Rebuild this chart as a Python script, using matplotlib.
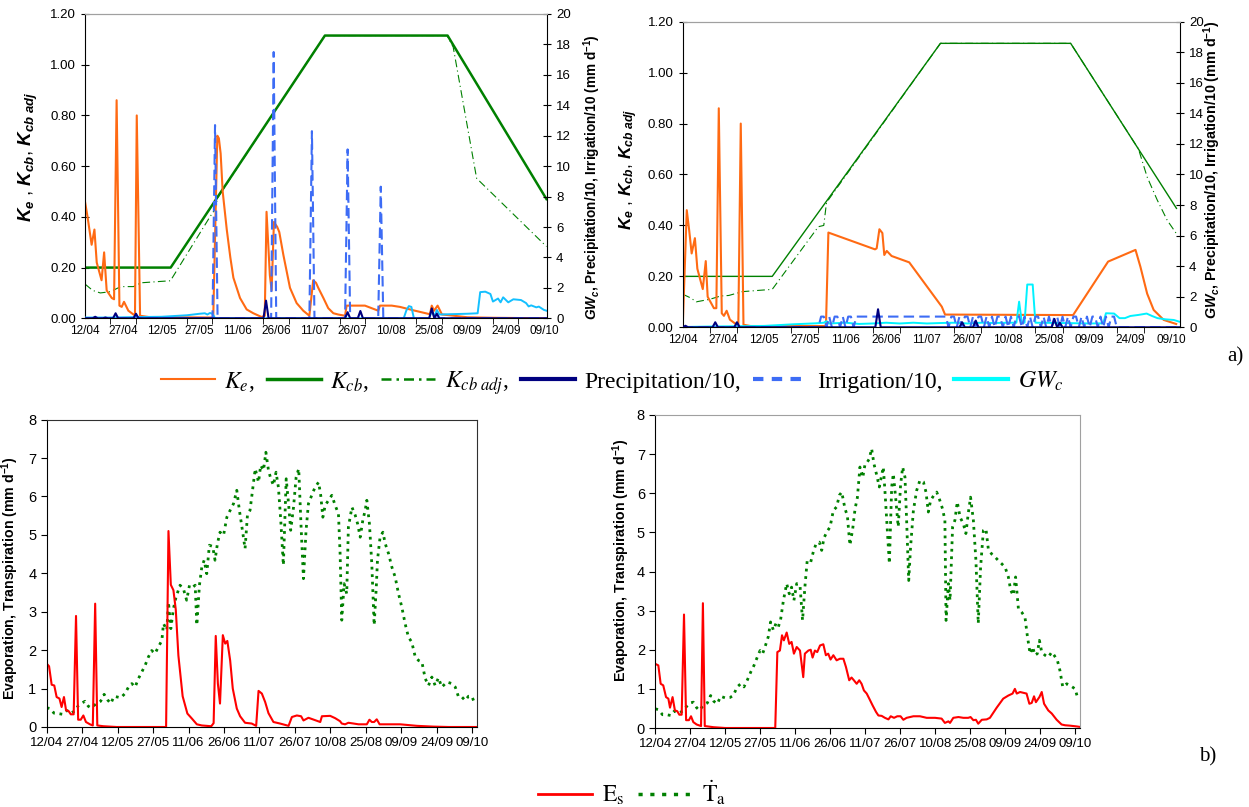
import numpy as np
import matplotlib.pyplot as plt
from matplotlib.lines import Line2D

plt.rcParams['font.family'] = ['Liberation Sans', 'DejaVu Sans']
plt.rcParams['mathtext.fontset'] = 'custom'
plt.rcParams['mathtext.it'] = 'Liberation Sans:italic:bold'
plt.rcParams['mathtext.rm'] = 'Liberation Sans:bold'
plt.rcParams['mathtext.bf'] = 'Liberation Sans:bold'

# x axis: day number counted from 12/04
date_labels = ['12/04', '27/04', '12/05', '27/05', '11/06', '26/06', '11/07',
               '26/07', '10/08', '25/08', '09/09', '24/09', '09/10']

# ---------------- a) left panel ----------------
ke_a_day = [0, 1, 2.6, 3.7, 4.6, 6.5, 7.5, 8.5, 10.5, 11.4, 12.4,
            13.5, 14.4, 15.3, 17, 19, 19.6, 20.3, 21.6, 25, 50.3, 51.3,
            51.9, 52.5, 53.2, 54, 55.6, 57, 58.2, 60.8, 63.4, 66,
            69.3, 70.5, 71.2, 72.5, 73.2, 74.1, 75.4, 76.2, 77.8, 80.4,
            83, 85.6, 88, 89.5, 90.6, 91.5, 93.5, 95.4, 97.4, 99.3,
            102, 102.6, 109.8, 115, 115.7, 120.3, 123.5, 129.4, 135.3, 136,
            136.9, 138.3, 140, 143, 150, 160, 181]
ke_a_val = [0.46, 0.40, 0.29, 0.35, 0.22, 0.15, 0.26, 0.11, 0.08, 0.075, 0.86,
            0.05, 0.045, 0.065, 0.03, 0.015, 0.012, 0.80, 0.01, 0.005, 0.003, 0.45,
            0.72, 0.71, 0.65, 0.50, 0.35, 0.24, 0.16, 0.08, 0.035, 0.02,
            0.005, 0.01, 0.42, 0.17, 0.11, 0.38, 0.36, 0.34, 0.25, 0.12,
            0.06, 0.03, 0.01, 0.15, 0.14, 0.12, 0.08, 0.04, 0.02, 0.015,
            0.01, 0.05, 0.05, 0.03, 0.05, 0.05, 0.045, 0.03, 0.016, 0.05,
            0.03, 0.05, 0.015, 0.012, 0.004, 0.002, 0.0]

kcb_a_day = [0, 33.6, 94.1, 142.2, 181]
kcb_a_val = [0.20, 0.20, 1.115, 1.115, 0.47]

kcbadj_a_day = [0, 3, 6, 10, 14, 19, 22, 29, 33.5, 49, 51, 52, 94, 142, 144.4, 153.6, 181]
kcbadj_a_val = [0.135, 0.11, 0.10, 0.105, 0.125, 0.125, 0.14, 0.145, 0.148, 0.40,
                0.43, 0.475, 1.115, 1.115, 1.07, 0.552, 0.283]

prec_a_day = [4, 8, 12, 20, 71, 103, 108, 136, 138]
prec_a_val = [0.1, 0.05, 0.33, 0.3, 1.16, 0.4, 0.48, 0.65, 0.3]

irr_a_day = [51, 74, 89, 103, 116]
irr_a_val = [12.7, 17.5, 12.3, 11.1, 8.65]

gw_a_day = [0, 10, 20, 30, 40, 45, 47, 48, 49, 50, 51, 125, 126, 127, 128, 129,
            135, 136, 137, 138, 139, 150, 154, 155, 157, 159, 160, 162, 163, 164,
            166, 168, 171, 173, 174, 175, 177, 178, 180, 181]
gw_a_val = [0.05, 0.05, 0.08, 0.10, 0.20, 0.30, 0.33, 0.25, 0.35, 0.30, 0.0, 0.0,
            0.5, 0.8, 0.75, 0.0, 0.0, 0.5, 0.1, 0.55, 0.25, 0.30, 0.33, 1.72, 1.75,
            1.60, 1.10, 1.30, 1.05, 1.38, 1.05, 1.25, 1.20, 1.00, 0.78, 0.85, 0.72,
            0.77, 0.55, 0.50]

# ---------------- a) right panel ----------------
ke_b_day = [0, 1.5, 2.4, 3.3, 4.5, 5.4, 6.4, 7.4, 8.5, 9.2,
            11.5, 12.4, 13.3, 14.4, 15.2, 16.2, 17.4, 19.3, 20.5, 21.4,
            22.4, 25, 52, 52.8, 53.7, 70.9, 71.5, 72.5, 73.6, 74.3,
            75.2, 77, 83.5, 95.5, 96.7, 143.9, 156.8, 166.9, 168.7, 171.2,
            173.6, 177.3, 181.9]
ke_b_val = [0.0, 0.46, 0.38, 0.29, 0.35, 0.23, 0.19, 0.15, 0.26, 0.12,
            0.075, 0.075, 0.86, 0.055, 0.045, 0.065, 0.03, 0.015, 0.01, 0.80,
            0.01, 0.005, 0.005, 0.005, 0.372, 0.306, 0.31, 0.385, 0.37, 0.284,
            0.30, 0.28, 0.255, 0.081, 0.05, 0.048, 0.258, 0.304, 0.238, 0.132,
            0.068, 0.029, 0.013]

kcb_b_day = [0, 33, 95, 143, 182]
kcb_b_val = [0.20, 0.20, 1.115, 1.115, 0.467]

kcbadj_b_day = [0, 3, 5, 10, 14, 17, 22, 28, 33, 50, 52, 53, 95, 143, 168,
                171.2, 174.9, 178.6, 181.9]
kcbadj_b_val = [0.13, 0.115, 0.10, 0.11, 0.123, 0.125, 0.14, 0.145, 0.149, 0.395,
                0.40, 0.49, 1.115, 1.115, 0.70, 0.59, 0.50, 0.42, 0.369]

prec_b_day = [1, 12, 20, 72, 103, 108, 137, 139]
prec_b_val = [0.1, 0.33, 0.33, 1.18, 0.33, 0.44, 0.55, 0.3]

irr_b_day = [51, 52, 54, 56, 57, 59, 61, 62,
             64, 65, 66, 67, 68, 69, 70, 71, 72, 73, 74, 75, 76, 77, 78, 79, 80,
             81, 82, 83, 84, 85, 86, 87, 88, 89, 90, 91, 92, 93, 94, 95, 96, 97,
             99, 100, 102, 104, 105, 107, 109, 110, 112, 114, 116, 117, 119, 121,
             123, 124, 126, 128, 130, 131, 133, 135, 137, 138, 140, 142, 144, 145,
             147, 149, 151, 152, 154, 156, 158, 159]
irr_b_mm = 0.7

gw_b_day = [0, 10, 20, 30, 41, 49, 52, 53, 54, 60, 65, 70, 75, 80, 85, 90, 95, 100,
            105, 110, 115, 120, 123, 124, 125, 126, 127, 129, 130, 140, 150, 155,
            156, 159, 161, 163, 165, 168, 171, 173, 175, 178, 181, 183]
gw_b_val = [0.02, 0.05, 0.07, 0.09, 0.20, 0.26, 0.30, 0.40, 0.25, 0.30, 0.22, 0.25,
            0.30, 0.25, 0.30, 0.25, 0.28, 0.30, 0.25, 0.30, 0.28, 0.30, 0.30, 1.68,
            0.30, 0.30, 2.80, 2.80, 0.30, 0.28, 0.25, 0.26, 0.92, 0.90, 0.60, 0.60,
            0.74, 0.81, 0.90, 0.74, 0.60, 0.52, 0.48, 0.37]

# ---------------- b) left panel ----------------
es_a_day = [0, 1, 2.1, 3.2, 4.2, 5.4, 6.3, 7.3, 8.2, 9.2,
            10.2, 11.4, 12.4, 13.3, 14.4, 15.5, 16.6, 18.3, 19.5, 20.5,
            21.4, 24, 29.6, 50.5, 51.5, 52.5, 53.6, 54.6, 55.7, 57.5,
            59.5, 61.4, 63.5, 65.6, 69.6, 70.6, 71.5, 72.4, 73.3, 74.5,
            75.5, 76.4, 77.6, 78.7, 80.4, 81.8, 83.9, 86.7, 88.6, 89.6,
            91, 92.4, 93.8, 95.9, 98.7, 102.3, 103.7, 105.8, 107.6, 108.6,
            110.7, 115.7, 116.4, 119.9, 122, 124.1, 124.8, 126.2, 127.6, 129.8,
            131.9, 135.4, 136.5, 137.5, 138.5, 139.6, 140.8, 149.5, 156.6, 163.6,
            170, 182]
es_a_val = [1.65, 1.58, 1.10, 1.08, 0.78, 0.74, 0.52, 0.78, 0.43, 0.42,
            0.33, 0.33, 2.89, 0.19, 0.19, 0.30, 0.13, 0.07, 0.04, 3.21,
            0.04, 0.02, 0.0, 0.0, 5.10, 3.70, 3.56, 3.05, 1.86, 0.80,
            0.35, 0.22, 0.07, 0.04, 0.02, 0.1, 2.37, 1.13, 0.61, 2.39,
            2.17, 2.24, 1.73, 1.00, 0.48, 0.28, 0.11, 0.09, 0.03, 0.94,
            0.87, 0.65, 0.36, 0.13, 0.09, 0.03, 0.26, 0.30, 0.28, 0.17,
            0.24, 0.13, 0.28, 0.29, 0.23, 0.15, 0.09, 0.07, 0.11, 0.09,
            0.07, 0.07, 0.19, 0.13, 0.13, 0.20, 0.07, 0.07, 0.03, 0.01,
            0.0, 0.0]

ta_a_day = [0, 1.4, 3.1, 4.9, 6.8, 8.5, 10.2, 12, 13.4, 14.8,
            16.2, 17.6, 18.6, 20, 21.4, 22.8, 24.3, 25.7, 27.1, 28.5,
            29.9, 31.3, 33.1, 34.6, 36, 37.4, 38.8, 40.2, 41.6, 43,
            44.4, 45.8, 47.2, 48.7, 49.4, 50.8, 51.5, 52.5, 53.6, 54.7,
            56.4, 57.8, 59.2, 60.4, 61.8, 62.8, 63.5, 64.6, 65.6, 66.6,
            67.7, 68.8, 70.2, 71.2, 72.2, 73.3, 74.8, 76.2, 77.6, 79,
            80.4, 81.5, 82.9, 83.9, 84.9, 86, 87.2, 88.2, 89.6, 90.5,
            91.7, 92.7, 93.8, 94.8, 95.9, 97, 98, 99, 100.1, 101.3,
            102.3, 103.2, 104.4, 105.5, 106.6, 107.6, 108.6, 109.7, 110.7, 112.1,
            113.5, 115, 115.9, 116.8, 117.8, 119.2, 120.6, 122, 123.4, 124.1,
            124.8, 125.8, 126.9, 127.6, 129.1, 130.5, 131.5, 132.6, 133.7, 134.7,
            135.4, 136.5, 137.5, 138.5, 139.4, 139.9, 141, 142.2, 143.2, 144.6,
            146, 147.4, 148.8, 150.2, 151.6, 153, 154.4, 155.9, 157.3, 158.7,
            160.1, 161.5, 162.9, 164.3, 165.7, 167.1, 169.3, 171.4, 172.8, 174.2,
            175.6, 177, 178.4, 179.8, 181.2]
ta_a_val = [0.50, 0.48, 0.36, 0.35, 0.33, 0.43, 0.36, 0.42, 0.56, 0.62,
            0.67, 0.54, 0.50, 0.56, 0.62, 0.67, 0.85, 0.71, 0.61, 0.80,
            0.78, 0.76, 0.87, 1.04, 1.13, 1.04, 1.26, 1.43, 1.60, 1.82,
            1.99, 1.91, 2.08, 2.25, 2.69, 2.52, 3.25, 2.56, 3.08, 3.38,
            3.69, 3.60, 3.30, 3.69, 3.64, 3.69, 2.65, 3.69, 4.16, 4.34,
            3.99, 4.73, 4.70, 4.34, 4.77, 5.07, 4.99, 5.46, 5.64, 5.81,
            6.16, 5.64, 5.07, 4.64, 5.51, 5.64, 6.24, 6.72, 6.37, 6.81,
            6.68, 7.15, 6.68, 6.46, 6.29, 6.63, 6.24, 5.38, 4.21, 6.46,
            5.81, 5.12, 5.72, 6.50, 6.72, 5.20, 3.86, 5.12, 5.81, 6.03,
            6.24, 6.37, 6.03, 5.46, 5.77, 5.90, 6.03, 5.77, 5.55, 4.51,
            2.78, 3.73, 3.47, 5.20, 5.72, 5.51, 5.29, 4.94, 5.38, 5.64,
            5.90, 5.29, 4.25, 2.65, 3.64, 4.34, 4.94, 5.07, 4.77, 4.51,
            4.16, 3.90, 3.47, 3.12, 2.69, 2.34, 2.21, 1.82, 1.73, 1.69,
            1.26, 1.08, 1.30, 1.08, 1.28, 1.04, 1.17, 1.13, 1.04, 0.78,
            0.78, 0.69, 0.80, 0.80, 0.59]

# ---------------- b) right panel ----------------
es_b_day = [0, 1.3, 2.3, 3.4, 4.6, 5.6, 6.3, 7.4, 8.4, 9.4,
            10.3, 11.3, 12.3, 13.2, 14.4, 15.3, 16.3, 17.7, 19.6, 20.4,
            21.2, 25, 30, 51.4, 52.3, 53.4, 54.3, 55.1, 56.3, 57.4,
            58.4, 59.4, 60.6, 62, 63.4, 64.1, 65.6, 66.6, 67.4, 68.4,
            69.4, 70.6, 72, 73.1, 74.1, 75.1, 76.3, 77.7, 79.1, 80.6,
            81.7, 83.1, 84.1, 85.1, 86.3, 87.4, 88.4, 89.4, 90.6, 91.7,
            93.1, 94.6, 95.6, 97, 98.4, 99.9, 100.9, 102.3, 103.7, 105.1,
            106.3, 107.7, 110.6, 113.4, 116.3, 119.9, 122.7, 124.1, 125.6, 126.3,
            127.7, 129.9, 132, 134.1, 135.1, 136.3, 137.4, 138.4, 139.9, 142,
            143.4, 146.3, 149.1, 151.3, 153.1, 154.1, 154.9, 156.3, 157.7, 159.1,
            160.3, 161.3, 162.3, 163.1, 164.6, 165.6, 166.6, 168.4, 169.9, 172,
            174.1, 175.6, 177.7, 180.6, 181.7]
es_b_val = [1.64, 1.60, 1.13, 1.09, 0.79, 0.75, 0.52, 0.79, 0.45, 0.43,
            0.34, 0.34, 2.90, 0.20, 0.20, 0.30, 0.15, 0.09, 0.05, 3.19,
            0.05, 0.02, 0.0, 0.0, 1.94, 1.98, 2.37, 2.24, 2.44, 2.15,
            2.20, 1.90, 2.07, 1.98, 1.30, 1.90, 1.98, 2.00, 1.80, 1.98,
            1.94, 2.11, 2.14, 1.86, 1.90, 1.75, 1.86, 1.73, 1.77, 1.77,
            1.56, 1.22, 1.29, 1.22, 1.13, 1.22, 1.13, 0.96, 0.88, 0.75,
            0.58, 0.41, 0.32, 0.31, 0.26, 0.22, 0.30, 0.26, 0.30, 0.30,
            0.21, 0.26, 0.30, 0.30, 0.26, 0.26, 0.24, 0.13, 0.17, 0.13,
            0.26, 0.28, 0.26, 0.26, 0.28, 0.20, 0.21, 0.11, 0.21, 0.22,
            0.26, 0.52, 0.75, 0.83, 0.88, 1.00, 0.88, 0.92, 0.90, 0.88,
            0.62, 0.64, 0.81, 0.66, 0.79, 0.92, 0.62, 0.45, 0.37, 0.21,
            0.09, 0.07, 0.06, 0.04, 0.03]

ta_b_day = [0, 1.3, 3.1, 4.9, 6.6, 8.1, 9.9, 11.7, 13.4, 14.9,
            16.3, 17.7, 18.9, 20.6, 22.3, 23.7, 25.1, 26.6, 28, 29.9,
            32, 33.4, 35.1, 36.6, 38, 39.4, 40.9, 42.3, 43.7, 44.9,
            46, 47, 48.4, 49.4, 50.6, 51.7, 52.7, 53.7, 54.9, 56.3,
            57.4, 58.4, 59.4, 60.6, 62, 63.1, 64.1, 65.1, 66.6, 67.7,
            68.9, 70.3, 71.3, 72.3, 73.7, 74.9, 76.3, 77.7, 78.9, 79.9,
            81.3, 82.3, 83.4, 84.6, 85.6, 86.6, 87.7, 88.9, 89.9, 90.9,
            91.7, 92.7, 93.7, 94.9, 96, 97, 97.7, 98.4, 99.1, 100.3,
            101.3, 102, 103.1, 104.1, 105.1, 106, 107, 107.7, 108.6, 109.4,
            110.6, 112, 113.4, 114.9, 116, 117, 118, 119.4, 120.6, 121.7,
            123.1, 124.1, 124.6, 125.6, 126.3, 127.4, 128.4, 129.4, 130.6, 132,
            133.1, 134.1, 135.1, 136.3, 137.4, 138.4, 139.4, 140.6, 141.7, 142.7,
            144.1, 145.6, 147, 148.4, 149.9, 151.3, 152.3, 153.4, 154.4, 155.6,
            157, 158.4, 159.4, 160.6, 161.7, 162.7, 163.7, 164.6, 165.6, 167,
            168.4, 169.9, 170.9, 172.3, 173.4, 174.6, 176.3, 177.7, 179.9, 180.9]
ta_b_val = [0.49, 0.47, 0.34, 0.34, 0.32, 0.43, 0.38, 0.43, 0.55, 0.64,
            0.66, 0.52, 0.45, 0.58, 0.64, 0.83, 0.68, 0.62, 0.81, 0.77,
            0.78, 0.83, 1.05, 1.13, 1.05, 1.22, 1.43, 1.60, 1.81, 1.98,
            1.90, 2.07, 2.33, 2.71, 2.50, 2.67, 2.58, 2.77, 3.26, 3.69,
            3.43, 3.60, 3.26, 3.69, 3.65, 2.75, 3.60, 4.28, 4.24, 4.50,
            4.71, 4.75, 4.54, 4.86, 5.03, 5.14, 5.56, 5.65, 5.95, 6.03,
            5.60, 5.43, 4.67, 5.09, 5.60, 5.89, 6.67, 6.40, 6.75, 6.80,
            6.88, 7.14, 6.75, 6.46, 6.16, 6.46, 6.67, 6.07, 5.39, 4.20,
            6.16, 6.50, 5.82, 5.14, 6.20, 6.67, 6.41, 5.31, 3.77, 4.63,
            5.56, 6.07, 6.33, 6.29, 6.03, 5.52, 5.82, 5.95, 6.03, 5.86,
            5.60, 5.31, 2.75, 3.69, 3.26, 5.14, 5.31, 5.78, 5.39, 5.22,
            4.97, 5.48, 5.90, 5.31, 4.28, 2.67, 4.11, 5.05, 5.09, 4.58,
            4.45, 4.37, 4.28, 4.20, 4.11, 3.86, 3.52, 3.39, 3.86, 3.05,
            2.96, 2.84, 2.37, 1.90, 2.07, 1.86, 1.90, 2.24, 1.94, 1.86,
            1.81, 1.94, 1.86, 1.73, 1.47, 1.05, 1.13, 1.09, 1.00, 0.79]

# colours
c_ke = '#FF6A13'
c_kcb = '#008000'
c_prec = '#000080'
c_irr = '#3D6CF5'
c_gw_a = '#14C0FF'
c_gw_b = '#00F2FF'
c_es = '#FF0000'
c_ta = '#008000'
c_edge = '#A0A0A0'

fig = plt.figure(figsize=(12.49, 8.07), dpi=100)
W, H = 1249.0, 807.0


def box(x0, y0, x1, y1):
    # pixel box (left, top, right, bottom) -> figure fraction rect
    return [x0 / W, 1 - y1 / H, (x1 - x0) / W, (y1 - y0) / H]


def dates_axis(ax, xmax, minor10):
    ax.set_xlim(0, xmax)
    ax.set_xticks(np.arange(0, 181, 15))
    ax.set_xticklabels(date_labels)
    if minor10:
        ax.set_xticks(np.arange(0, 181, 10), minor=True)
        ax.tick_params(axis='x', which='major', length=0, pad=5)
        ax.tick_params(axis='x', which='minor', length=4, direction='out')
    else:
        ax.tick_params(axis='x', which='major', length=4, direction='out')


def top_panel(rect, xmax, ke_d, ke_v, kcb_d, kcb_v, adj_d, adj_v, n_days,
              prec_d, prec_v, irr_days, irr_vals, gw_d, gw_v, gw_col, kcb_lw,
              lab_l, lab_r):
    ax = fig.add_axes(rect)
    ax2 = ax.twinx()
    ax.plot(adj_d, adj_v, color=c_kcb, lw=0.8, ls=(0, (7, 3, 1, 3)))
    ax.plot(kcb_d, kcb_v, color=c_kcb, lw=kcb_lw)
    ax.plot(ke_d, ke_v, color=c_ke, lw=1.5)
    days = np.arange(n_days)
    prec = np.zeros(n_days)
    prec[prec_d] = prec_v
    irr = np.zeros(n_days)
    irr[irr_days] = irr_vals
    ax2.plot(gw_d, gw_v, color=gw_col, lw=1.4)
    ax2.plot(days, irr, color=c_irr, lw=1.5, ls=(0, (5, 2.5)))
    ax2.plot(days, prec, color=c_prec, lw=1.5)
    ax.set_ylim(0, 1.2)
    ax.set_yticks(np.arange(0, 1.21, 0.2))
    ax.set_yticklabels(['%.2f' % v for v in np.arange(0, 1.21, 0.2)])
    ax2.set_ylim(0, 20)
    ax2.set_yticks(np.arange(0, 21, 2))
    dates_axis(ax, xmax, True)
    ax.tick_params(axis='y', direction='inout', length=6, labelsize=9.5)
    ax2.tick_params(axis='y', direction='inout', length=6, labelsize=9.5)
    ax.tick_params(axis='x', labelsize=8.5)
    for a in (ax, ax2):
        a.spines['top'].set_color(c_edge)
    ax.spines['right'].set_visible(False)
    ax2.spines['left'].set_visible(False)
    ax2.spines['bottom'].set_visible(False)
    ax.set_ylabel(r'$K_e$ , $K_{cb}$, $K_{cb\ adj}$', fontsize=lab_l)
    ax2.set_ylabel(r'$GW_c$, Precipitation/10, Irrigation/10 (mm d$^{-1}$)',
                   fontsize=lab_r, fontweight='bold')
    return ax, ax2


ax1, ax1r = top_panel(box(85, 14, 547, 318.3), 181.2, ke_a_day, ke_a_val,
                      kcb_a_day, kcb_a_val, kcbadj_a_day, kcbadj_a_val, 182,
                      prec_a_day, prec_a_val, irr_a_day, irr_a_val,
                      gw_a_day, gw_a_val, c_gw_a, 1.8, 13.5, 9.8)
ax1.yaxis.set_label_coords(-0.097, 0.53)
ax1r.yaxis.set_label_coords(1.074, 0.463)

ax2_, ax2r = top_panel(box(682.7, 21.7, 1180, 327.3), 183.3, ke_b_day, ke_b_val,
                       kcb_b_day, kcb_b_val, kcbadj_b_day, kcbadj_b_val, 184,
                       prec_b_day, prec_b_val, irr_b_day, irr_b_mm,
                       gw_b_day, gw_b_val, c_gw_b, 1.0, 12.5, 10.3)
ax2_.yaxis.set_label_coords(-0.086, 0.518)
ax2r.yaxis.set_label_coords(1.044, 0.515)


def bottom_panel(rect, es_d, es_v, ta_d, ta_v, edge):
    ax = fig.add_axes(rect)
    ax.plot(ta_d, ta_v, color=c_ta, lw=2.0, ls=(0, (1, 1.7)))
    ax.plot(es_d, es_v, color=c_es, lw=1.5)
    ax.set_ylim(0, 8)
    ax.set_yticks(range(0, 9))
    dates_axis(ax, 182, False)
    ax.tick_params(axis='y', direction='out', length=4, labelsize=10.5)
    ax.tick_params(axis='x', labelsize=9.5)
    ax.spines['top'].set_color(edge)
    ax.spines['right'].set_color(edge)
    ax.set_ylabel(r'Evaporation, Transpiration (mm d$^{-1}$)', fontsize=10.2,
                  fontweight='bold')
    return ax


ax3 = bottom_panel(box(46.7, 419.6, 477, 727), es_a_day, es_a_val, ta_a_day,
                   ta_a_val, '#303030')
ax3.yaxis.set_label_coords(-0.06, 0.485)
ax4 = bottom_panel(box(655.3, 415, 1080, 728), es_b_day, es_b_val, ta_b_day,
                   ta_b_val, c_edge)
ax4.yaxis.set_label_coords(-0.055, 0.537)

# legends
serif = {'family': 'Liberation Serif', 'size': 17}
h_a = [Line2D([], [], color=c_ke, lw=1.5),
       Line2D([], [], color=c_kcb, lw=2.5),
       Line2D([], [], color=c_kcb, lw=1.8, ls=(0, (4, 2, 1, 2))),
       Line2D([], [], color=c_prec, lw=3),
       Line2D([], [], color=c_irr, lw=3, ls=(0, (2.5, 2))),
       Line2D([], [], color='#00FFFF', lw=3)]
l_a = [r'$K_e$,', r'$K_{cb}$,', r'$K_{cb\ adj}$,', 'Precipitation/10,',
       'Irrigation/10,', r'$GW_c$']
leg = fig.legend(h_a, l_a, loc='center', bbox_to_anchor=(612 / W, 1 - 383 / H),
                 ncol=6, frameon=False, prop=serif, handlelength=2.3,
                 handletextpad=0.4, columnspacing=0.5)
for t in leg.get_texts():
    t.set_math_fontfamily('stix')

h_b = [Line2D([], [], color=c_es, lw=2),
       Line2D([], [], color=c_ta, lw=2.5, ls=(0, (1.2, 2.2)))]
l_b = [r'$\mathrm{E}_{\mathrm{s}}$', r'$\dot{\mathrm{T}}_{\mathrm{a}}$']
leg2 = fig.legend(h_b, l_b, loc='center', bbox_to_anchor=(632 / W, 1 - 793 / H),
                  ncol=2, frameon=False, prop=serif, handlelength=2.3,
                  handletextpad=0.4, columnspacing=0.6)
for t in leg2.get_texts():
    t.set_math_fontfamily('stix')

fig.text(1227 / W, 1 - 357 / H, 'a)', family='Liberation Serif', size=15, va='center')
fig.text(1199 / W, 1 - 757 / H, 'b)', family='Liberation Serif', size=15, va='center')

fig.savefig('out.png', dpi=100)
